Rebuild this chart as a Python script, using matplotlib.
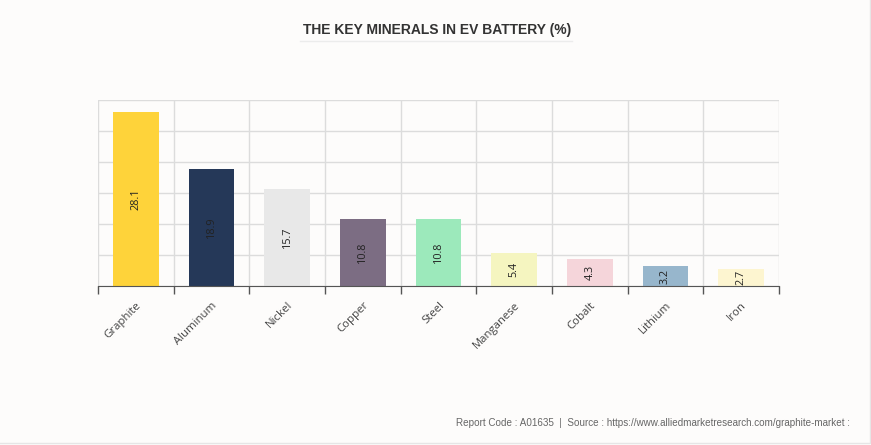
import matplotlib.pyplot as plt
import numpy as np
from matplotlib.lines import Line2D

minerals = ['Graphite', 'Aluminum', 'Nickel', 'Copper', 'Steel', 'Manganese', 'Cobalt', 'Lithium', 'Iron']
share = [28.1, 18.9, 15.7, 10.8, 10.8, 5.4, 4.3, 3.2, 2.7]
colors = ['#fed33a', '#253858', '#e8e8e8', '#7c6d83', '#9ce9bb', '#f5f5c0', '#f5d5da', '#97b6cc', '#fdf5d0']

fig = plt.figure(figsize=(8.71, 4.45), dpi=100, facecolor='#fdfcfb')
ax = fig.add_axes([98/871, 1-286/445, (779-98)/871, (286-100)/445])
ax.set_facecolor('#fdfcfb')

x = np.arange(len(minerals))
bars = ax.bar(x, share, width=0.6, color=colors, zorder=3)
for b, v in zip(bars, share):
    ax.text(b.get_x()+b.get_width()/2, v/2, str(v), rotation=90, ha='center', va='center',
            fontsize=7.8, color='#222222', family='Open Sans', zorder=4)

ax.set_xlim(-0.5, len(minerals)-0.5)
ax.set_ylim(0, 30)
ax.set_yticks(np.arange(0, 31, 5))
ax.set_yticklabels([])
ax.tick_params(axis='y', length=0)
ax.set_xticks(x)
ax.set_xticklabels(minerals, rotation=45, ha='right', rotation_mode='anchor',
                   fontsize=8.2, color='#444444', family='Open Sans')
ax.tick_params(axis='x', which='major', length=0, pad=10)
ax.set_xticks(np.arange(-0.5, len(minerals)), minor=True)
ax.tick_params(axis='x', which='minor', length=6, color='#555555', width=1)
ax.grid(True, axis='y', color='#dcdcdc', lw=1, zorder=0)
ax.grid(True, axis='x', which='minor', color='#dcdcdc', lw=1, zorder=0)
ax.grid(False, axis='x', which='major')
for s in ['top', 'right', 'left']:
    ax.spines[s].set_visible(False)
ax.spines['bottom'].set_color('#555555')
ax.spines['bottom'].set_zorder(5)

fig.text(437/871, 1-30/445, 'THE KEY MINERALS IN EV BATTERY (%)', ha='center', va='center',
         fontsize=10, fontweight='bold', color='#333333', family='Liberation Sans')
fig.add_artist(Line2D([300/871, 572/871], [1-41/445, 1-41/445], color='#ececec', lw=1))
fig.text(850/871, 1-423/445,
         'Report Code : A01635  |  Source : https://www.alliedmarketresearch.com/graphite-market :',
         ha='right', va='center', fontsize=7.1, color='#666666', family='Liberation Sans')
fig.add_artist(Line2D([0, 869.5/871, 869.5/871], [1-442.5/445, 1-442.5/445, 1], color='#e6e6e6', lw=1))

plt.savefig('out.png', dpi=100, facecolor=fig.get_facecolor())
